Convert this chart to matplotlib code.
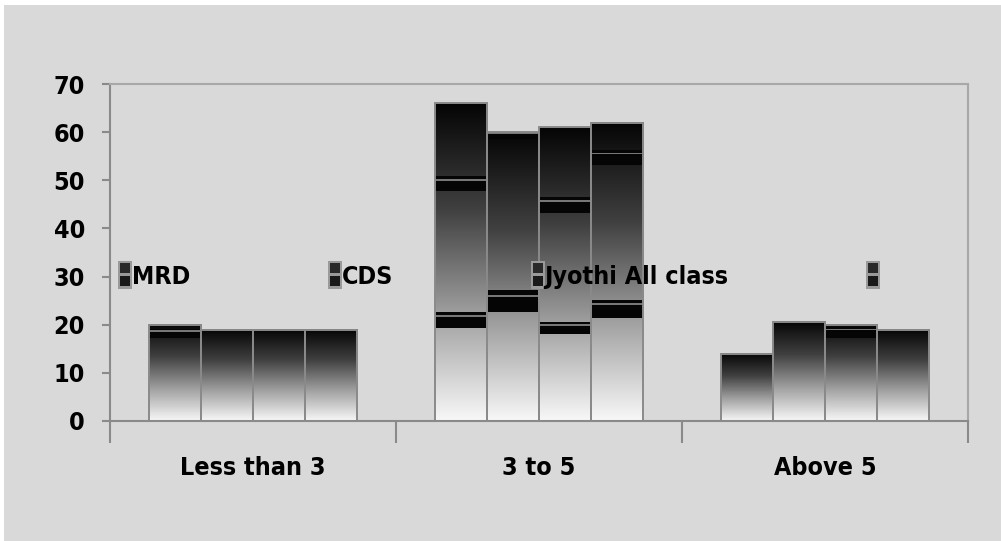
import numpy as np
import matplotlib
matplotlib.use('Agg')
import matplotlib.pyplot as plt
from matplotlib.colors import LinearSegmentedColormap
from matplotlib.patches import Rectangle
from matplotlib.legend_handler import HandlerBase

# data
categories = ['Less than 3', '3 to 5', 'Above 5']
series = ['MRD', 'CDS', 'Jyothi All class', '']
values = [[20, 19, 19, 19],
          [66, 60, 61, 62],
          [14, 20.6, 20, 19]]
# dark bands seen inside the bars (lower, upper), per category and bar
bands = [[[(17.3, 19.1)], [], [], []],
         [[(19.3, 22.7), (47.7, 50.9)], [(22.7, 27.2), (58.5, 60)],
          [(18.0, 20.6), (43.2, 46.6)], [(21.4, 25.2), (53.2, 56.3)]],
         [[], [], [(17.2, 19.5)], []]]
yticks = [0, 10, 20, 30, 40, 50, 60, 70]

plt.rcParams['font.family'] = ['DejaVu Sans']
plt.rcParams['font.weight'] = 'bold'
plt.rcParams['font.stretch'] = 'condensed'

fig = plt.figure(figsize=(10.01, 5.41), dpi=100)
fig.patch.set_facecolor('white')
fig.add_artist(Rectangle((4/1001, 0), 1, 1 - 5/541, transform=fig.transFigure,
                         facecolor='#d9d9d9', edgecolor='none', zorder=-10))

ax = fig.add_axes([110/1001, 1 - 421/541, (968-110)/1001, (421-84)/541])
ax.set_facecolor('#d9d9d9')

cmap = LinearSegmentedColormap.from_list('g', ['#f8f8f8', '#a0a0a0', '#404040', '#050505'])
grad = np.linspace(0, 1, 256).reshape(-1, 1)
w = 0.182

for ci, cat in enumerate(categories):
    for bi in range(4):
        h = values[ci][bi]
        x0 = ci + (bi - 2) * w
        ax.imshow(grad, extent=[x0, x0 + w, 0, h], origin='lower', cmap=cmap,
                  aspect='auto', zorder=2, interpolation='bilinear')
        for lo, hi in bands[ci][bi]:
            ax.add_patch(Rectangle((x0, lo), w, hi - lo, facecolor='#050505',
                                   edgecolor='none', zorder=3))
            ax.add_patch(Rectangle((x0, hi - (hi - lo) * 0.3), w, 0.35,
                                   facecolor='#777777', edgecolor='none', zorder=3))
        ax.bar(x0, h, width=w, align='edge', fill=False, edgecolor='#8a8a8a',
               linewidth=1.4, zorder=4)


class TwoBarHandler(HandlerBase):
    def create_artists(self, legend, orig_handle, xdescent, ydescent, width,
                       height, fontsize, trans):
        bw = 10
        bh = 20
        x = -xdescent
        y = -ydescent + height / 2 - bh / 2
        outer = Rectangle((x, y), bw, bh, facecolor='#9a9a9a', edgecolor='none', transform=trans)
        top = Rectangle((x + 1.5, y + bh * 0.55), bw - 3, bh * 0.36, facecolor='#2a2a2a',
                        edgecolor='none', transform=trans)
        bot = Rectangle((x + 1.5, y + bh * 0.09), bw - 3, bh * 0.36, facecolor='#1a1a1a',
                        edgecolor='none', transform=trans)
        return [outer, top, bot]


handles = [Rectangle((0, 0), 1, 1) for s in series]
leg = ax.legend(handles, series, handler_map={Rectangle: TwoBarHandler()},
                ncol=4, mode='expand', frameon=False, fontsize=18,
                bbox_to_anchor=((118-110)/858, (30/70) - 0.05, (880-118)/858, 0.1),
                loc='center', handlelength=0.5, handletextpad=0.05,
                borderaxespad=0, borderpad=0)
leg.set_zorder(5)

ax.set_xlim(-0.5, 2.5)
ax.set_ylim(0, 70)
ax.set_yticks(yticks)
ax.set_yticklabels([str(t) for t in yticks], fontsize=18, fontweight='bold')
ax.set_xticks([-0.5, 0.5, 1.5, 2.5])
ax.set_xticklabels([])
ax.set_xticks([0, 1, 2], minor=True)
ax.set_xticklabels(categories, minor=True, fontsize=18, fontweight='bold')
ax.tick_params(axis='x', which='major', length=16, width=1.5, color='#8a8a8a', direction='out')
ax.tick_params(axis='x', which='minor', length=0, pad=25)
ax.tick_params(axis='y', length=6, width=1.5, color='#8a8a8a', pad=12)

for s in ['left', 'bottom']:
    ax.spines[s].set_color('#8a8a8a')
    ax.spines[s].set_linewidth(1.5)
for s in ['top', 'right']:
    ax.spines[s].set_color('#a8a8a8')
    ax.spines[s].set_linewidth(1.5)

fig.savefig('out.png', dpi=100)
